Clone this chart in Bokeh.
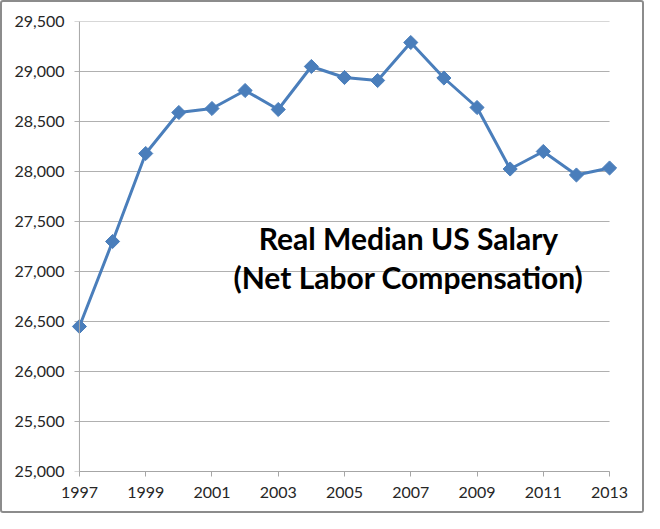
from bokeh.plotting import figure
from bokeh.models import FixedTicker, NumeralTickFormatter, Range1d, Label, Span
from bokeh.embed import file_html
from bokeh.resources import INLINE
import math

# real median US salary (net labor compensation)
years = list(range(1997, 2014))
salary = [26450, 27300, 28180, 28590, 28630, 28810, 28620, 29050, 28940,
          28910, 29290, 28935, 28640, 28025, 28200, 27965, 28035]

x_ticks = [1997, 1999, 2001, 2003, 2005, 2007, 2009, 2011, 2013]
y_ticks = [25000, 25500, 26000, 26500, 27000, 27500, 28000, 28500, 29000, 29500]
title_lines = ["Real Median US Salary", "(Net Labor Compensation)"]

blue = "#4a7ebb"
axis_gray = "#a6a6a6"
grid_gray = "#b0b0b0"

# a little room at both x ends so the end markers are not cut off
pad = 0.3
tick = 0.15   # y tick length, in years
p = figure(width=644, height=513, output_backend="svg", toolbar_location=None,
           x_range=Range1d(x_ticks[0] - pad, x_ticks[-1] + pad),
           y_range=Range1d(y_ticks[0], y_ticks[-1]))
p.min_border_left = 67
p.min_border_right = 27
p.min_border_top = 19
p.min_border_bottom = 44
p.outline_line_color = None
p.background_fill_color = "white"
p.border_fill_color = "white"
p.styles = {"border": "2px solid #8c8c8c", "border-radius": "3px"}

# horizontal gridlines (with the y ticks) between the first and last year
p.xgrid.grid_line_color = None
p.ygrid.grid_line_color = None
p.segment(x0=x_ticks[0] - tick, x1=x_ticks[-1], y0=y_ticks, y1=y_ticks,
          line_color=grid_gray, line_width=1)
# y axis line sits on the first year
p.add_layout(Span(location=x_ticks[0], dimension="height",
                  line_color=axis_gray, line_width=1))

p.line(years, salary, line_color=blue, line_width=3)
p.scatter(years, salary, marker="square", angle=math.pi / 4, size=10,
          fill_color=blue, line_color=blue)

# axes
p.xaxis.ticker = FixedTicker(ticks=x_ticks)
p.yaxis.ticker = FixedTicker(ticks=y_ticks)
p.yaxis.formatter = NumeralTickFormatter(format="0,0")
p.xaxis.bounds = (x_ticks[0], x_ticks[-1])
for ax in (p.xaxis, p.yaxis):
    ax.axis_line_color = axis_gray
    ax.major_tick_line_color = axis_gray
    ax.major_tick_out = 5
    ax.major_tick_in = 0
    ax.minor_tick_line_color = None
    ax.major_label_text_font = "Lato"
    ax.major_label_text_font_size = "16px"
    ax.major_label_text_color = "#262626"
p.yaxis.axis_line_color = None
p.yaxis.major_tick_line_color = None
p.yaxis.major_tick_out = 0
p.xaxis.major_label_standoff = 10
p.yaxis.major_label_standoff = 5

# title inside the plot
for txt, yy in zip(title_lines, [27333, 26943]):
    p.add_layout(Label(x=2006.93, y=yy, text=txt, text_align="center",
                       text_baseline="middle", text_font="Lato",
                       text_font_style="bold", text_font_size="30px",
                       text_color="black"))

open("out.html", "w").write(file_html(p, INLINE))
